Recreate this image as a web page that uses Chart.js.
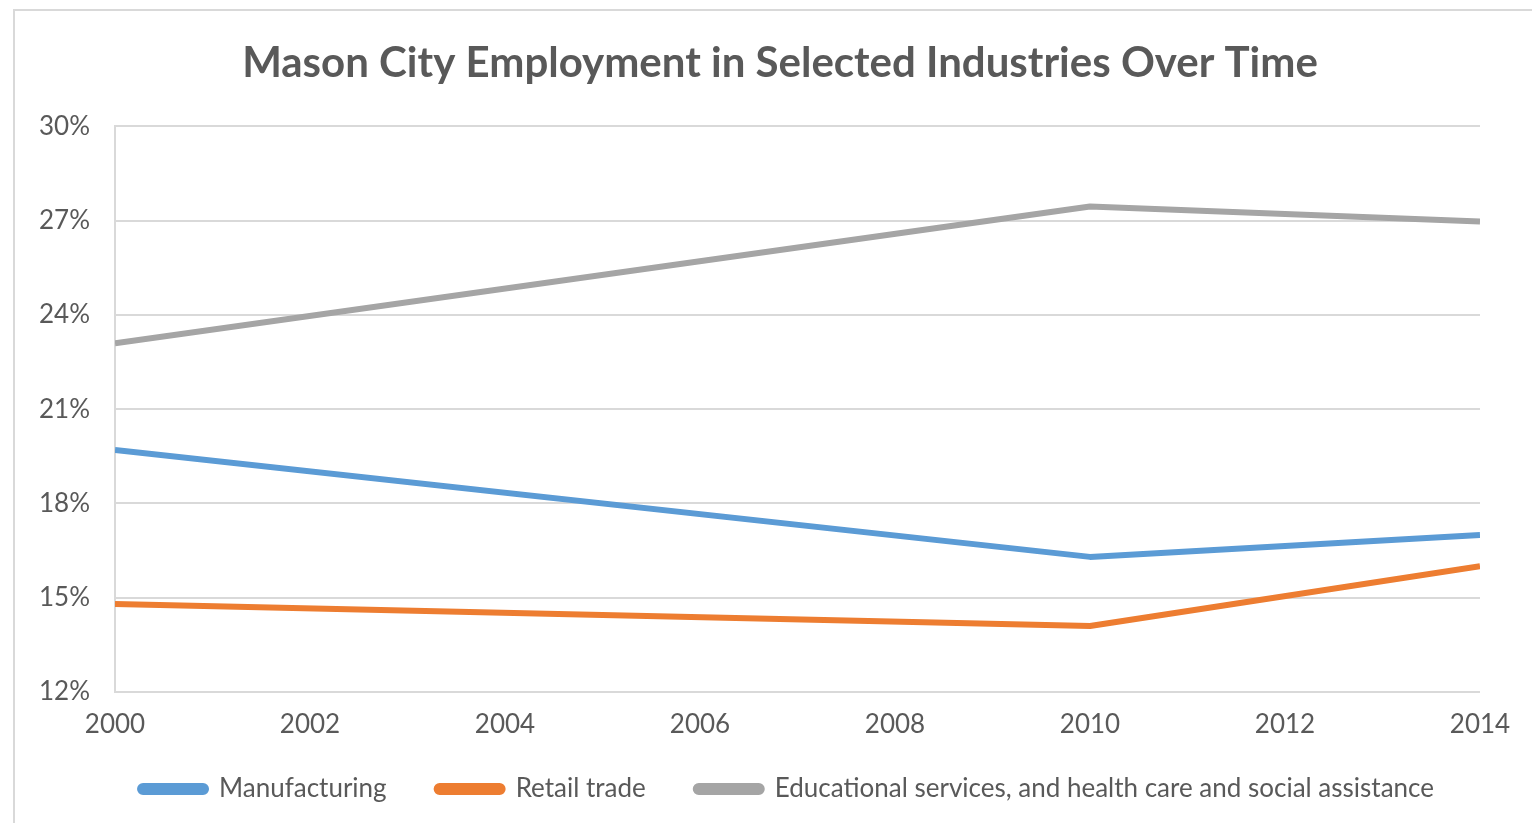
<!DOCTYPE html>
<html>
<head>
<meta charset="utf-8">
<script src="https://cdn.jsdelivr.net/npm/chart.js@4/dist/chart.umd.min.js"></script>
<style>
  html, body { margin: 0; padding: 0; background: #fff; overflow: hidden; }
  #frame { position: absolute; left: 13px; top: 9px; width: 1600px; height: 900px; border: 2px solid #d9d9d9; }
  #wrap { position: absolute; left: 0; top: 0; width: 1532px; height: 823px; }
</style>
</head>
<body>
<div id="frame"></div>
<div id="wrap"><canvas id="lineChart" width="1532" height="823"></canvas></div>
<script>
// Chart data
var years = [2000, 2010, 2014];
var manufacturing = [19.7, 16.3, 17.0];
var retailTrade = [14.8, 14.1, 16.0];
var eduHealth = [23.1, 27.45, 26.97];
var seriesNames = ['Manufacturing', 'Retail trade', 'Educational services, and health care and social assistance'];
var yTicks = [12, 15, 18, 21, 24, 27, 30];
var xTicks = [2000, 2002, 2004, 2006, 2008, 2010, 2012, 2014];

var textColor = '#595959';
var gridColor = '#d9d9d9';
var fontFamily = 'Lato, "Open Sans", sans-serif';

function toPoints(values) {
    return values.map(function (v, i) { return { x: years[i], y: v }; });
}

function lineSet(label, values, color) {
    return {
        label: label,
        data: toPoints(values),
        borderColor: color,
        backgroundColor: color,
        borderWidth: 6,
        borderCapStyle: 'butt',
        borderJoinStyle: 'round',
        pointRadius: 0,
        tension: 0
    };
}

// Title and legend in the original sit a bit right of the canvas centre
var shiftBoxes = {
    id: 'shiftBoxes',
    afterLayout: function (chart) {
        if (chart.legend) {
            chart.legend.left += 37; chart.legend.right += 37;
            chart.legend.top -= 11; chart.legend.bottom -= 11;
        }
        if (chart.titleBlock) { chart.titleBlock.left += 30; chart.titleBlock.right += 30; }
    }
};

var ctx = document.getElementById('lineChart').getContext('2d');
var myChart = new Chart(ctx, {
    type: 'line',
    data: {
        datasets: [
            lineSet(seriesNames[0], manufacturing, '#5b9bd5'),
            lineSet(seriesNames[1], retailTrade, '#ed7d31'),
            lineSet(seriesNames[2], eduHealth, '#a5a5a5')
        ]
    },
    plugins: [shiftBoxes],
    options: {
        responsive: false,
        animation: false,
        layout: { padding: { left: 20, right: 52, top: 10, bottom: 0 } },
        plugins: {
            title: {
                display: true,
                text: 'Mason City Employment in Selected Industries Over Time',
                color: textColor,
                font: { family: fontFamily, size: 42, weight: 'bold' },
                padding: { top: 28, bottom: 38 }
            },
            legend: {
                position: 'bottom',
                labels: {
                    color: textColor,
                    font: { family: fontFamily, size: 26 },
                    boxWidth: 66,
                    boxHeight: 6,
                    useBorderRadius: true,
                    borderRadius: 3,
                    padding: 50
                }
            },
            tooltip: { enabled: false }
        },
        scales: {
            x: {
                type: 'linear',
                min: 2000,
                max: 2014,
                afterBuildTicks: function (scale) {
                    scale.ticks = xTicks.map(function (v) { return { value: v }; });
                },
                afterFit: function (scale) { scale.height = 45; },
                grid: { display: false },
                border: { display: false },
                ticks: {
                    color: textColor,
                    font: { family: fontFamily, size: 26 },
                    padding: 9,
                    maxRotation: 0,
                    callback: function (v) { return String(v); }
                }
            },
            y: {
                min: 12,
                max: 30,
                afterBuildTicks: function (scale) {
                    scale.ticks = yTicks.map(function (v) { return { value: v }; });
                },
                afterFit: function (scale) { scale.width = 95; },
                grid: { color: gridColor, lineWidth: 2, drawTicks: false },
                border: { display: true, color: gridColor, width: 2 },
                ticks: {
                    color: textColor,
                    font: { family: fontFamily, size: 26 },
                    padding: 25,
                    callback: function (v) { return v + '%'; }
                }
            }
        }
    }
});
</script>
</body>
</html>
